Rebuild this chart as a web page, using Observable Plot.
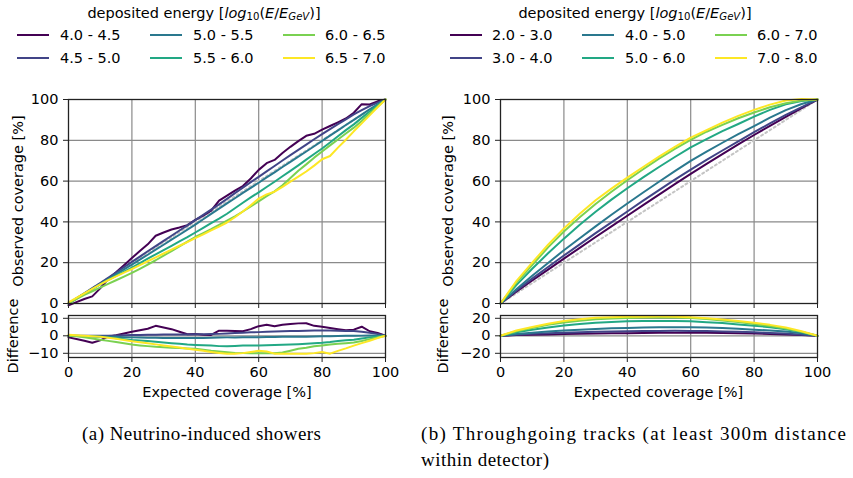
<!DOCTYPE html>
<html><head><meta charset="utf-8">
<script src="https://cdn.jsdelivr.net/npm/d3@7"></script>
<script src="https://cdn.jsdelivr.net/npm/@observablehq/plot@0.6"></script>
<style>
body{margin:0;background:#fff;width:853px;height:478px;position:relative;overflow:hidden;font-family:"DejaVu Sans",sans-serif;color:#000;}
.abs{position:absolute;}
.lab{position:absolute;font-size:14.5px;white-space:nowrap;line-height:1;transform:translate(-50%,-50%);}
.rot{transform:translate(-50%,-50%) rotate(-90deg);}
.sw{position:absolute;height:2px;width:32px;transform:translateY(-1px);}
.lt{position:absolute;font-size:14.5px;white-space:nowrap;line-height:1;transform:translateY(-50%);}
sub{font-size:70%;vertical-align:-0.25em;line-height:0;}
</style></head>
<body>
<div id="root"></div>
<script>
// ---------- data ----------
const viridis6 = ["#440154", "#414487", "#2a788e", "#22a884", "#7ad151", "#fde725"];
const legendTitle = 'deposited energy [<i>log</i><sub>10</sub>(<i>E</i>/<i>E</i><sub><i>GeV</i></sub>)]';

// (a) Neutrino-induced showers — expected coverage grid [%]
const expectedShowers = [0,2.5,5,7.5,10,12.5,15,17.5,20,22.5,25,27.5,30,32.5,35,37.5,40,42.5,45,47.5,50,52.5,55,57.5,60,62.5,65,67.5,70,72.5,75,77.5,80,82.5,85,87.5,90,92.5,95,97.5,100];
const showerLabels = ["4.0 - 4.5", "4.5 - 5.0", "5.0 - 5.5", "5.5 - 6.0", "6.0 - 6.5", "6.5 - 7.0"];
// difference observed - expected [%]
const showerDiff_40_45 = [-0.9,-1.8,-2.8,-4.0,-2.6,-0.5,0.3,1.3,2.3,3.2,4.0,5.7,4.8,3.8,2.3,0.9,1.0,0.6,0.5,2.9,2.9,2.8,2.6,3.8,5.5,6.3,5.4,6.3,6.8,7.1,7.2,5.7,5.2,4.5,3.8,3.2,3.5,5.2,2.6,1.6,0];
const showerDiff_45_50 = [0,0,0,0,0,0.1,0.2,0.3,0.4,0.5,0.6,0.6,0.7,0.7,0.8,0.8,0.9,0.9,1.0,1.1,1.3,1.6,1.8,2.0,2.1,2.3,2.4,2.6,2.7,2.8,2.9,3.0,3.0,3.0,2.9,2.8,2.7,2.3,1.8,1.0,0];
const showerDiff_50_55 = [0,-0.1,-0.2,-0.3,-0.4,-0.5,-0.6,-0.8,-0.9,-1.0,-1.1,-1.1,-1.2,-1.2,-1.3,-1.3,-1.3,-1.2,-1.1,-1.0,-0.9,-0.9,-0.8,-0.8,-0.8,-0.7,-0.7,-0.6,-0.6,-0.5,-0.5,-0.4,-0.3,-0.2,-0.1,0,0,0.1,0.2,0.1,0];
const showerDiff_55_60 = [0,0,-0.2,-0.4,-0.6,-0.9,-1.4,-1.9,-2.4,-2.7,-3.0,-3.4,-3.8,-4.2,-4.6,-5.0,-5.2,-5.4,-5.6,-5.9,-6.0,-5.8,-5.6,-5.5,-5.5,-5.4,-5.3,-5.1,-5.0,-4.8,-4.5,-4.2,-4.0,-3.6,-3.0,-2.5,-2.2,-1.5,-0.9,-0.4,0];
const showerDiff_60_65 = [0,-0.3,-0.8,-1.5,-2.2,-2.9,-3.6,-4.3,-5.0,-5.5,-5.9,-6.3,-6.5,-6.8,-7.0,-7.2,-7.4,-8.0,-8.6,-9.0,-9.4,-9.8,-9.9,-9.9,-9.9,-9.9,-10.0,-9.5,-8.5,-7.4,-6.8,-6.0,-5.5,-5.0,-4.6,-4.2,-3.8,-3.0,-1.9,-1.0,0];
const showerDiff_65_70 = [0.6,0.3,0,-0.3,-0.6,-1.1,-1.7,-2.4,-3.1,-3.7,-4.3,-4.9,-5.5,-6.1,-6.7,-7.4,-8.0,-8.6,-9.2,-9.8,-10.3,-10.2,-9.9,-9.3,-8.6,-9.0,-10.2,-10.3,-10.3,-10.3,-10.3,-9.9,-9.3,-10.2,-8.6,-7.2,-5.6,-4.2,-2.8,-1.3,0];

// (b) Throughgoing tracks
const expectedTracks = [0,5,10,15,20,25,30,35,40,45,50,55,60,65,70,75,80,85,90,95,100];
const trackLabels = ["2.0 - 3.0", "3.0 - 4.0", "4.0 - 5.0", "5.0 - 6.0", "6.0 - 7.0", "7.0 - 8.0"];
const trackDiff_2_3 = [0,0.8,1.3,1.6,2.0,2.3,2.6,2.8,3.0,3.2,3.4,3.5,3.5,3.4,3.2,3.0,2.6,2.1,1.5,0.8,0];
const trackDiff_3_4 = [0,1.3,2.2,2.9,3.5,4.0,4.5,4.8,5.1,5.4,5.6,5.7,5.6,5.4,5.0,4.5,4.0,3.3,2.5,1.3,0];
const trackDiff_4_5 = [0,2.0,3.6,4.9,6.1,7.0,7.8,8.5,9.0,9.4,9.7,9.9,9.9,9.4,8.8,8.0,7.0,6.1,4.8,2.8,0];
const trackDiff_5_6 = [0,4.0,7.0,9.6,11.8,13.6,15.0,15.9,16.5,16.8,16.9,16.8,16.5,15.6,14.5,13.0,11.6,9.9,7.6,4.3,0];
const trackDiff_6_7 = [0,5.2,8.8,12.5,15.3,17.3,18.8,19.8,20.4,20.8,21.0,20.8,20.2,19.2,17.6,15.8,13.6,11.2,8.2,4.5,0];
const trackDiff_7_8 = [0,6.0,10.0,13.8,16.8,19.0,20.6,21.3,21.7,21.9,22.0,21.8,21.3,20.0,18.7,17.0,14.9,12.5,9.5,5.2,0];

const mainTicks = [0,20,40,60,80,100];
const gridTicks = [20,40,60,80];
const diffTicksA = [-10,0,10];
const diffTicksB = [-20,0,20];

// ---------- helpers ----------
function buildRows(xs, labels, arrays) {
  return arrays.flatMap((arr, k) => arr.map((d, i) => ({x: xs[i], diff: d, obs: xs[i] + d, s: labels[k]})));
}
const minus = d => d < 0 ? "\u2212" + (-d) : String(d);
const baseStyle = {background: "transparent", fontFamily: "DejaVu Sans", fontSize: "14.5px", color: "#000", overflow: "visible"};
const gridOpt = {stroke: "#8a8a8a", strokeOpacity: 1, strokeWidth: 1.2};

function mainPlot(rows, xs, labels, w, ml, mr) {
  return Plot.plot({
    width: w, height: 310, marginLeft: ml, marginRight: mr, marginTop: 99, marginBottom: 7,
    x: {domain: [0, 100]}, y: {domain: [0, 100]},
    color: {domain: labels, range: viridis6},
    style: baseStyle,
    marks: [
      Plot.gridX(gridTicks, gridOpt),
      Plot.gridY(gridTicks, gridOpt),
      Plot.line(xs, {x: d => d, y: d => d, stroke: "#c4c4c4", strokeWidth: 2, strokeDasharray: "2,3"}),
      Plot.line(rows, {x: "x", y: "obs", z: "s", stroke: "s", strokeWidth: 2}),
      Plot.axisY(mainTicks, {tickSize: 5, tickPadding: 5, label: null, stroke: "#222"}),
      Plot.axisX(mainTicks, {tickSize: 5, tickFormat: () => "", label: null, stroke: "#222"}),
      Plot.frame({stroke: "#222", strokeWidth: 1.3})
    ]
  });
}
function diffPlot(rows, labels, w, ml, mr, dom, ticks) {
  return Plot.plot({
    width: w, height: 110, marginLeft: ml, marginRight: mr, marginTop: 15, marginBottom: 53,
    x: {domain: [0, 100]}, y: {domain: dom},
    color: {domain: labels, range: viridis6},
    style: baseStyle,
    marks: [
      Plot.gridX(gridTicks, gridOpt),
      Plot.gridY(ticks, gridOpt),
      Plot.line(rows, {x: "x", y: "diff", z: "s", stroke: "s", strokeWidth: 2}),
      Plot.axisY(ticks, {tickSize: 5, tickPadding: 5, label: null, tickFormat: minus, stroke: "#222"}),
      Plot.axisX(mainTicks, {tickSize: 5, tickPadding: 4, label: null, stroke: "#222"}),
      Plot.frame({stroke: "#222", strokeWidth: 1.3})
    ]
  });
}
function place(el, left, top) {
  el.style.position = "absolute"; el.style.left = left + "px"; el.style.top = top + "px";
  document.body.appendChild(el);
}
function label(text, cx, cy, rot) {
  const d = document.createElement("div");
  d.className = "lab" + (rot ? " rot" : "");
  d.innerHTML = text; d.style.left = cx + "px"; d.style.top = cy + "px";
  document.body.appendChild(d);
}
function legend(labels, titleCx, swX, txX) {
  label(legendTitle, titleCx, 13);
  labels.forEach((l, i) => {
    const col = i >> 1, row = i % 2;
    const y = row === 0 ? 35 : 57.5;
    const s = document.createElement("div");
    s.className = "sw"; s.style.left = swX[col] + "px"; s.style.top = y + "px"; s.style.background = viridis6[i];
    document.body.appendChild(s);
    const t = document.createElement("div");
    t.className = "lt"; t.textContent = l; t.style.left = txX[col] + "px"; t.style.top = y + "px";
    document.body.appendChild(t);
  });
}

// ---------- panels ----------
const rowsA = buildRows(expectedShowers, showerLabels, [showerDiff_40_45, showerDiff_45_50, showerDiff_50_55, showerDiff_55_60, showerDiff_60_65, showerDiff_65_70]);
const rowsB = buildRows(expectedTracks, trackLabels, [trackDiff_2_3, trackDiff_3_4, trackDiff_4_5, trackDiff_5_6, trackDiff_6_7, trackDiff_7_8]);

place(mainPlot(rowsA, expectedShowers, showerLabels, 426, 68, 41), 0, 0);
place(diffPlot(rowsA, showerLabels, 426, 68, 41, [-12.4, 11.6], diffTicksA), 0, 300);
place(mainPlot(rowsB, expectedTracks, trackLabels, 423, 70, 36), 430, 0);
place(diffPlot(rowsB, trackLabels, 423, 70, 36, [-24.8, 23.2], diffTicksB), 430, 300);

label("Observed coverage [%]", 17.5, 201, true);
label("Difference", 12.5, 336, true);
label("Expected coverage [%]", 227, 392);
label("Observed coverage [%]", 447.5, 201, true);
label("Difference", 442.5, 336, true);
label("Expected coverage [%]", 658.5, 392);

legend(showerLabels, 204, [17, 150, 283], [60, 193, 325]);
legend(trackLabels, 635, [450, 582, 715], [492, 625, 757]);

// captions
const ns = "http://www.w3.org/2000/svg";
const cap = document.createElementNS(ns, "svg");
cap.setAttribute("width", 853); cap.setAttribute("height", 78);
cap.style.position = "absolute"; cap.style.left = "0px"; cap.style.top = "400px";
[["(a) Neutrino-induced showers", 82, 40, 239],
 ["(b) Throughgoing tracks (at least 300m distance", 421, 40, 425],
 ["within detector)", 421, 66, 128]].forEach(([t, x, y, len]) => {
  const e = document.createElementNS(ns, "text");
  e.setAttribute("x", x); e.setAttribute("y", y);
  e.setAttribute("textLength", len); e.setAttribute("lengthAdjust", "spacing");
  e.setAttribute("font-family", "Liberation Serif, DejaVu Serif, serif");
  e.setAttribute("font-size", "19px"); e.setAttribute("fill", "#000");
  e.textContent = t; cap.appendChild(e);
});
document.body.appendChild(cap);
</script>
</body></html>
